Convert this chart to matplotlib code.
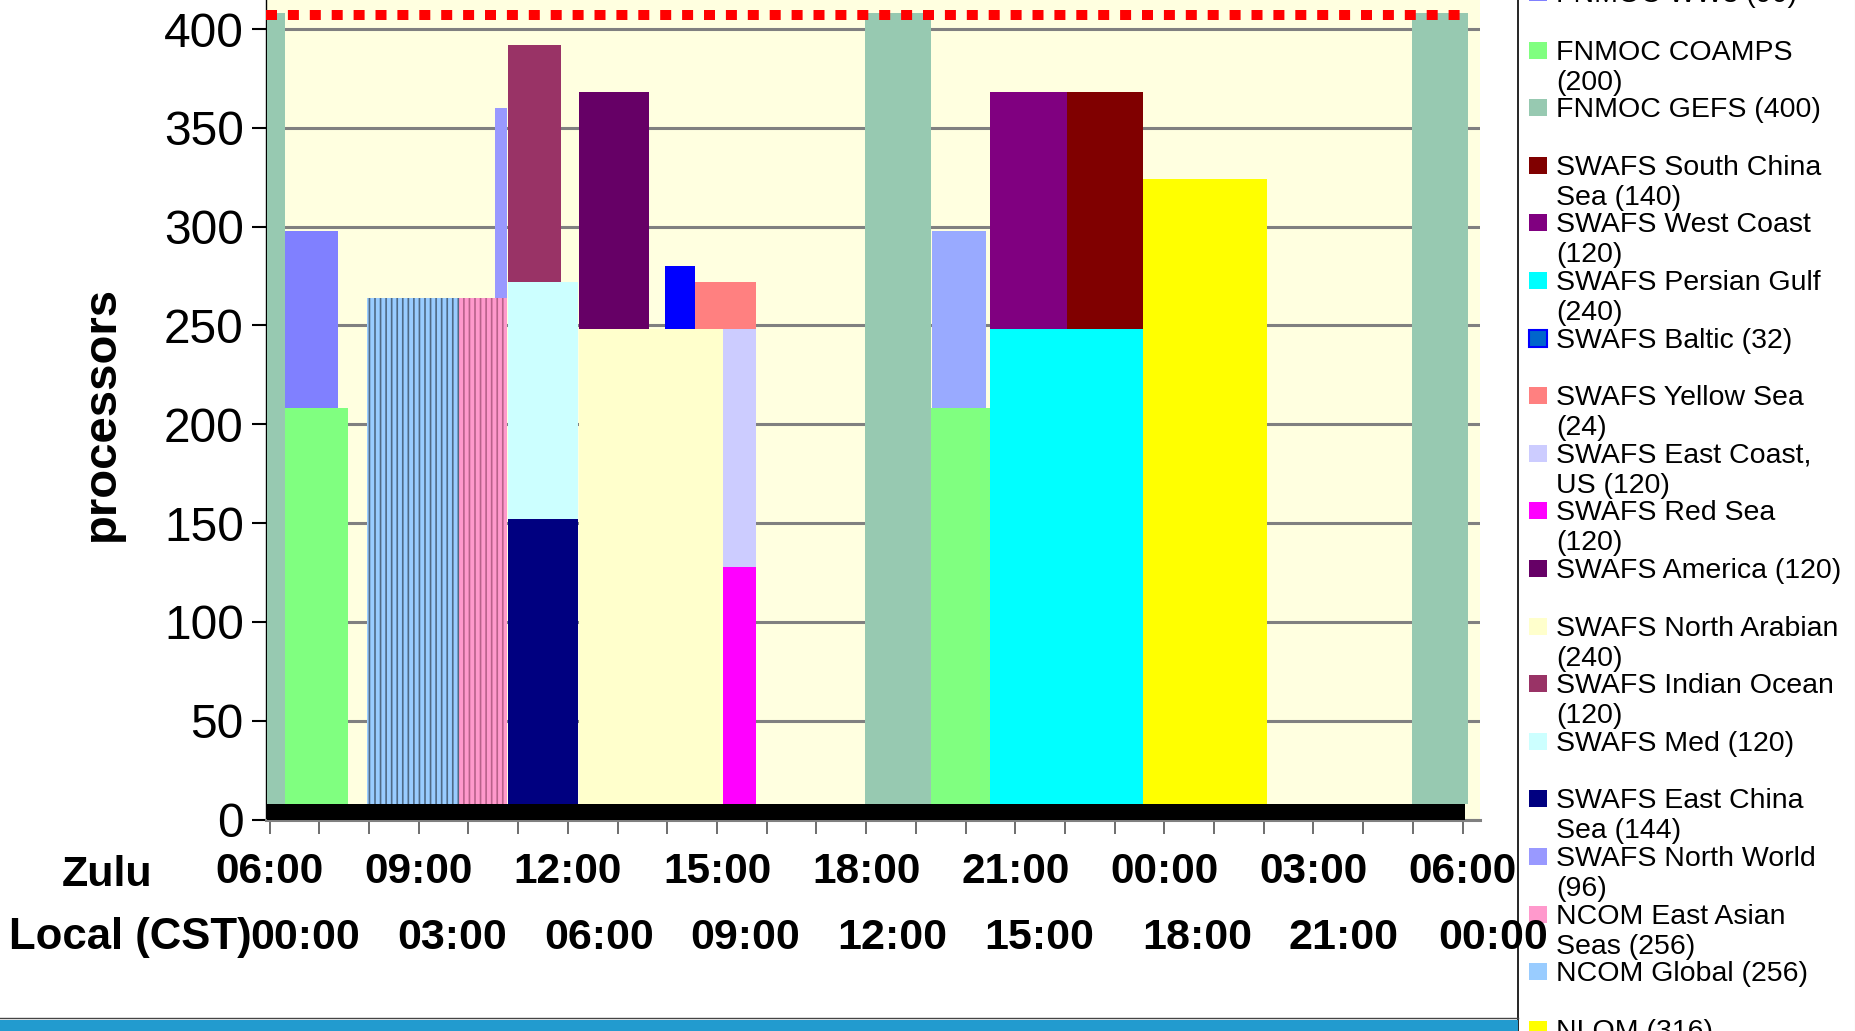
import matplotlib
matplotlib.use('Agg')
import matplotlib.pyplot as plt
import matplotlib.transforms as mtransforms
from matplotlib.patches import Rectangle
from matplotlib.lines import Line2D
import numpy as np

plt.rcParams['font.family'] = ['Liberation Sans', 'DejaVu Sans']
plt.rcParams['hatch.linewidth'] = 1.2

W, H = 1855, 1031

# series in stacking order (bottom of the column first)
series_keys = ['base', 'nlom', 'ncom_glb', 'ncom_eas', 'north_world', 'east_china',
               'med', 'indian', 'north_arabian', 'america', 'red_sea', 'east_coast',
               'yellow_sea', 'baltic', 'persian', 'west_coast', 'south_china',
               'gefs', 'coamps', 'ww3', 'ww3_b']

series_colors = {
    'base': '#000000', 'nlom': '#ffff00', 'ncom_glb': '#99ccff', 'ncom_eas': '#ff99cc',
    'north_world': '#9999ff', 'east_china': '#000080', 'med': '#ccffff',
    'indian': '#993366', 'north_arabian': '#ffffcc', 'america': '#660066',
    'red_sea': '#ff00ff', 'east_coast': '#ccccff', 'yellow_sea': '#ff8080',
    'baltic': '#0000ff', 'persian': '#00ffff', 'west_coast': '#800080',
    'south_china': '#800000', 'gefs': '#97c9b1', 'coamps': '#80ff80',
    'ww3': '#8080ff', 'ww3_b': '#99aaff',
}
# NCOM runs show dark vertical striping
series_stripes = {'ncom_glb': '#4f6a86', 'ncom_eas': '#b8628a'}

# jobs: series, start / end (hours Zulu from 00:00 of day 1), processors
job_series = ['base',
              'gefs', 'gefs', 'gefs',
              'coamps', 'coamps',
              'ww3', 'ww3_b',
              'ncom_glb', 'ncom_eas', 'north_world',
              'east_china', 'med', 'indian',
              'north_arabian', 'america', 'baltic', 'yellow_sea',
              'east_coast', 'red_sea',
              'persian', 'west_coast', 'south_china',
              'nlom']
job_start = [5.94,
             5.94, 17.98, 28.98,
             6.30, 19.31,
             6.30, 19.33,
             7.96, 9.80, 10.53,
             10.79, 10.79, 10.79,
             12.22, 12.22, 13.96, 14.55,
             15.12, 15.12,
             20.49, 20.49, 22.04,
             23.56]
job_end = [30.05,
           6.30, 19.31, 30.10,
           7.57, 20.53,
           7.38, 20.42,
           9.80, 10.77, 10.77,
           12.21, 12.21, 11.86,
           15.12, 13.63, 14.55, 15.79,
           15.79, 15.79,
           23.56, 22.04, 23.56,
           26.07]
job_procs = [8,
             400, 400, 400,
             200, 200,
             90, 90,
             256, 256, 96,
             144, 120, 120,
             240, 120, 32, 24,
             120, 120,
             240, 120, 120,
             316]

limit_procs = 407
limit_span = [5.93, 30.0]

zulu_ticks = [6, 9, 12, 15, 18, 21, 24, 27, 30]
zulu_labels = ['06:00', '09:00', '12:00', '15:00', '18:00', '21:00', '00:00', '03:00', '06:00']
local_labels = ['00:00', '03:00', '06:00', '09:00', '12:00', '15:00', '18:00', '21:00', '00:00']
local_label_x = [6.71, 9.67, 12.63, 15.57, 18.53, 21.49, 24.66, 27.60, 30.61]

# legend, top to bottom as it appears in the picture
legend_keys = ['ww3', 'coamps', 'gefs', 'south_china', 'west_coast', 'persian', 'baltic',
               'yellow_sea', 'east_coast', 'red_sea', 'america', 'north_arabian', 'indian',
               'med', 'east_china', 'north_world', 'ncom_eas', 'ncom_glb', 'nlom']
legend_lines = [
    ['FNMOC WW3 (90)'],
    ['FNMOC COAMPS', '(200)'],
    ['FNMOC GEFS (400)'],
    ['SWAFS South China', 'Sea (140)'],
    ['SWAFS West Coast', '(120)'],
    ['SWAFS Persian Gulf', '(240)'],
    ['SWAFS Baltic (32)'],
    ['SWAFS Yellow Sea', '(24)'],
    ['SWAFS East Coast,', 'US (120)'],
    ['SWAFS Red Sea', '(120)'],
    ['SWAFS America (120)'],
    ['SWAFS North Arabian', '(240)'],
    ['SWAFS Indian Ocean', '(120)'],
    ['SWAFS Med (120)'],
    ['SWAFS East China', 'Sea (144)'],
    ['SWAFS North World', '(96)'],
    ['NCOM East Asian', 'Seas (256)'],
    ['NCOM Global (256)'],
    ['NLOM (316)'],
]
legend_marker_colors = {'baltic': '#0066cc'}

fig = plt.figure(figsize=(W / 100, H / 100), dpi=100)
fig.patch.set_facecolor('white')

ax = fig.add_axes([266 / W, 1 - 819.5 / H, (1480 - 266) / W, 819.5 / H])
ax.set_facecolor('#ffffe0')
ax.set_xlim(5.926, 30.35)
ax.set_ylim(0, 414.7)

# stacked blocks: each job sits on whatever lower series is running at its midpoint
rank = {k: i for i, k in enumerate(series_keys)}
for j, key in enumerate(job_series):
    mid = 0.5 * (job_start[j] + job_end[j])
    bottom = sum(job_procs[k] for k in range(len(job_series))
                 if rank[job_series[k]] < rank[key] and job_start[k] < mid < job_end[k])
    stripe = series_stripes.get(key)
    ax.bar(job_start[j], job_procs[j], width=job_end[j] - job_start[j], bottom=bottom,
           align='edge', color=series_colors[key], linewidth=0,
           edgecolor=stripe if stripe else 'none', hatch='|||' if stripe else None,
           zorder=3)

ax.plot(limit_span, [limit_procs, limit_procs], color='#ff0000', lw=7.2,
        linestyle=(0, (1.1, 1.09)), dash_capstyle='butt', solid_capstyle='butt', zorder=6)

ax.set_yticks(np.arange(0, 401, 50))
ax.yaxis.grid(True, color='#808080', lw=2.2, zorder=0)
ax.set_axisbelow(True)
ax.tick_params(axis='y', length=10, width=1.5, color='black', labelsize=34.5, pad=6)

ax.set_xticks(zulu_ticks)
ax.set_xticklabels(zulu_labels, fontweight='bold')
ax.set_xticks(np.arange(6, 31, 1), minor=True)
ax.tick_params(axis='x', which='both', length=10, width=1.2, color='#555555')
ax.tick_params(axis='x', which='major', labelsize=30.5, pad=13.5)

for side in ['top', 'right']:
    ax.spines[side].set_visible(False)
ax.spines['left'].set_color('black')
ax.spines['left'].set_linewidth(1.0)
ax.spines['bottom'].set_color('#808080')
ax.spines['bottom'].set_linewidth(2.2)

fig.text(102 / W, 1 - 413 / H, 'processors', rotation=90, ha='center', va='center',
         fontsize=34, fontweight='bold')
fig.text(107 / W, 1 - 886 / H, 'Zulu', ha='center', va='baseline',
         fontsize=31, fontweight='bold')
fig.text(252 / W, 1 - 949 / H, 'Local (CST)', ha='right', va='baseline',
         fontsize=31.5, fontweight='bold')
blend = mtransforms.blended_transform_factory(ax.transData, fig.transFigure)
for x, lab in zip(local_label_x, local_labels):
    fig.text(x, 1 - 949 / H, lab, transform=blend, ha='center', va='baseline',
             fontsize=31, fontweight='bold', zorder=10)

# bottom band of the slide
fig.add_artist(Rectangle((0, 0), 1518 / W, 11.5 / H, transform=fig.transFigure,
                         facecolor='#229bcf', edgecolor='none'))
fig.add_artist(Line2D([0, 1518 / W], [13 / H, 13 / H], transform=fig.transFigure,
                      color='#444444', lw=1))

# legend panel on the right
lax = fig.add_axes([1518 / W, 0, (W - 1518) / W, 1])
lax.set_xlim(1518, W)
lax.set_ylim(H, 0)
lax.set_facecolor('white')
lax.set_xticks([])
lax.set_yticks([])
for side in ['top', 'bottom']:
    lax.spines[side].set_visible(False)
lax.spines['left'].set_color('black')
lax.spines['left'].set_linewidth(1.2)
lax.spines['right'].set_color('#d8d8d8')

for i, (key, lines) in enumerate(zip(legend_keys, legend_lines)):
    yc = -7.6 + 57.6 * i
    edge = '#0000ff' if key == 'baltic' else 'none'
    lax.add_patch(Rectangle((1529, yc - 8.5), 18, 17,
                            facecolor=legend_marker_colors.get(key, series_colors[key]),
                            edgecolor=edge, lw=1.5))
    for k, line in enumerate(lines):
        lax.text(1556, yc + 9.5 + 30 * k, line, fontsize=20.5, ha='left', va='baseline')

fig.savefig('out.png', dpi=100)
